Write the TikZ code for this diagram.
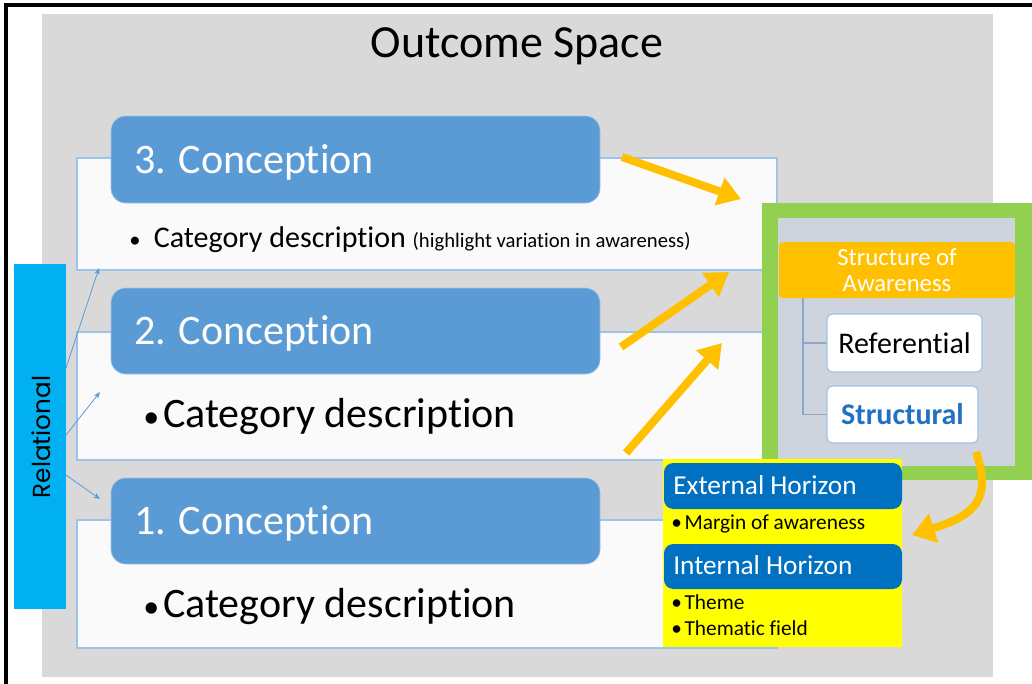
\documentclass[tikz,border=0pt]{standalone}
\usepackage{fontspec}
\setmainfont{Carlito}[RawFeature={-liga;-clig;-calt;-dlig}]
\newfontfamily\relfont{Poppins}
\usetikzlibrary{arrows.meta,fit,calc}
\definecolor{bggray}{HTML}{D9D9D9}
\definecolor{bandfill}{HTML}{FAFAFA}
\definecolor{bandline}{HTML}{9DC3E6}
\definecolor{concblue}{HTML}{5B9BD5}
\definecolor{relblue}{HTML}{00B0F0}
\definecolor{arrowyellow}{HTML}{FFC000}
\definecolor{framegreen}{HTML}{92D050}
\definecolor{innergray}{HTML}{CDD4DE}
\definecolor{treeline}{HTML}{8EA6C6}
\definecolor{structtext}{HTML}{2272C3}
\definecolor{boxyellow}{HTML}{FFFF00}
\definecolor{hzblue}{HTML}{0070C0}
\newcommand{\bigbul}{{\fontsize{24}{24}\selectfont\textbullet}}
\tikzset{
  band/.style={fill=bandfill, draw=bandline, line width=1pt, inner sep=0pt},
  concbox/.style={fill=concblue, draw=bandline, line width=0.5pt, rounded corners=11pt, inner sep=0pt},
  conctext/.style={anchor=base west, text=white, font=\fontsize{31.5}{36}\selectfont, inner sep=0pt},
  bigbullet/.style={anchor=base west, text=black, font=\fontsize{31.5}{36}\selectfont, inner sep=0pt},
  smallbullet/.style={anchor=base west, text=black, font=\fontsize{16}{18}\selectfont, inner sep=0pt},
  yarrow/.style={draw=arrowyellow, line width=6pt, -{Triangle[length=17pt,width=21pt]}},
  thinarrow/.style={draw=concblue, line width=0.6pt, -{Stealth[length=5pt,width=4pt]}},
  whitebox/.style={fill=white, draw=bandline, line width=0.8pt, rounded corners=4pt, inner sep=0pt},
  hzbox/.style={fill=hzblue, rounded corners=7pt, inner sep=0pt},
  hztext/.style={anchor=base west, text=white, font=\fontsize{20.5}{24}\selectfont, inner sep=0pt},
}
\begin{document}
\begin{tikzpicture}[x=0.75pt,y=-0.75pt]
\useasboundingbox (0,0) rectangle (1032,683);
% frame lines
\draw[line width=2.3pt, black] (6,684) -- (6,5) -- (1033,5);
% gray background
\fill[bggray] (42,14) rectangle (993,677);
\node (title) [anchor=base, font=\fontsize{34.5}{40}\selectfont, inner sep=0pt] at (517,57) {Outcome Space};

% bands
\node (band3) [band, fit={(77,158) (777,270)}] {};
\node (band2) [band, fit={(77,332) (777,460)}] {};
\node (band1) [band, fit={(77,520) (777,648)}] {};

% conception boxes
\node (c3) [concbox, fit={(111,116) (600,203)}] {};
\node (c2) [concbox, fit={(111,288) (600,374)}] {};
\node (c1) [concbox, fit={(111,478) (600,564)}] {};
\node (c3t) [conctext] at (134,173) {3. Conception};
\node (c2t) [conctext] at (134,344) {2. Conception};
\node (c1t) [conctext] at (134,534) {1. Conception};

% category descriptions
\node (d3) [anchor=base west, inner sep=0pt] at (129,247)
  {{\fontsize{17}{17}\selectfont\textbullet}\hspace{10pt}\fontsize{22.5}{26}\selectfont Category description\ \fontsize{15.5}{18}\selectfont(highlight variation in awareness)};
\node (d2) [bigbullet] at (143,427) {\bigbul\hspace{3pt}Category description};
\node (d1) [bigbullet] at (143,617) {\bigbul\hspace{3pt}Category description};

% relational bar
\node (rel) [fill=relblue, inner sep=0pt, fit={(14,264) (66,609)}] {};
\node (relt) [rotate=90, font=\relfont\fontsize{18.5}{22}\selectfont, inner sep=0pt] at (41,437) {Relational};
\coordinate (r3) at (66,368);
\coordinate (r2) at (66,435);
\coordinate (r1) at (66,475);
\coordinate (t3) at (99,268);
\coordinate (t2) at (100,392);
\coordinate (t1) at (100,499);
\draw[thinarrow] (r3) -- (t3);
\draw[thinarrow] (r2) -- (t2);
\draw[thinarrow] (r1) -- (t1);

% structure of awareness panel
\node (green) [fill=framegreen, inner sep=0pt, fit={(762,203) (1040,480)}] {};
\node (inner) [fill=innergray, inner sep=0pt, fit={(778,218) (1015,466)}] {};
\node (soa) [fill=arrowyellow, rounded corners=3pt, inner sep=0pt, fit={(779,242) (1015,298)}] {};
\node (soat) [text=white, align=center, font=\fontsize{18.5}{19.5}\selectfont, inner sep=0pt] at (897,270) {Structure of\\Awareness};
\node (ref) [whitebox, fit={(827,314) (982,372)}] {};
\node (reft) [font=\fontsize{22.5}{26}\selectfont, inner sep=0pt] at (904.5,343) {Referential};
\node (str) [whitebox, fit={(827,386) (978,443)}] {};
\node (strt) [text=structtext, font=\bfseries\fontsize{22.5}{26}\selectfont, inner sep=0pt] at (902.5,414.5) {Structural};
\coordinate (treetop) at (803,298);
\draw[treeline, line width=1.2pt] (treetop) |- (ref.west);
\draw[treeline, line width=1.2pt] (treetop) |- (str.west);

% yellow arrows
\coordinate (a3s) at (622,157);
\coordinate (a3e) at (741,199);
\coordinate (a2s) at (621,347);
\coordinate (a2e) at (729,272);
\coordinate (a1s) at (626,453);
\coordinate (a1e) at (722,343);
\draw[yarrow] (a3s) -- (a3e);
\draw[yarrow] (a2s) -- (a2e);
\draw[yarrow] (a1s) -- (a1e);

% horizons box
\node (hz) [fill=boxyellow, inner sep=0pt, fit={(663,459) (902,647)}] {};
\node (ext) [hzbox, fit={(664,463) (902,509)}] {};
\node (extt) [hztext] at (673,494) {External Horizon};
\node (margin) [smallbullet] at (671,529) {\textbullet\hspace{2pt}Margin of awareness};
\node (int) [hzbox, fit={(664,544) (902,589)}] {};
\node (intt) [hztext] at (673,574) {Internal Horizon};
\node (theme) [smallbullet] at (671,609) {\textbullet\hspace{2pt}Theme};
\node (thfield) [smallbullet] at (671,635) {\textbullet\hspace{2pt}Thematic field};

% curved arrow
\coordinate (cs) at (976,452);
\coordinate (ce) at (912,535);
\draw[draw=arrowyellow, line width=6pt, -{Triangle[length=17pt,width=22pt]}]
  (cs) .. controls (992,500) and (975,515) .. (ce);
\end{tikzpicture}
\end{document}
